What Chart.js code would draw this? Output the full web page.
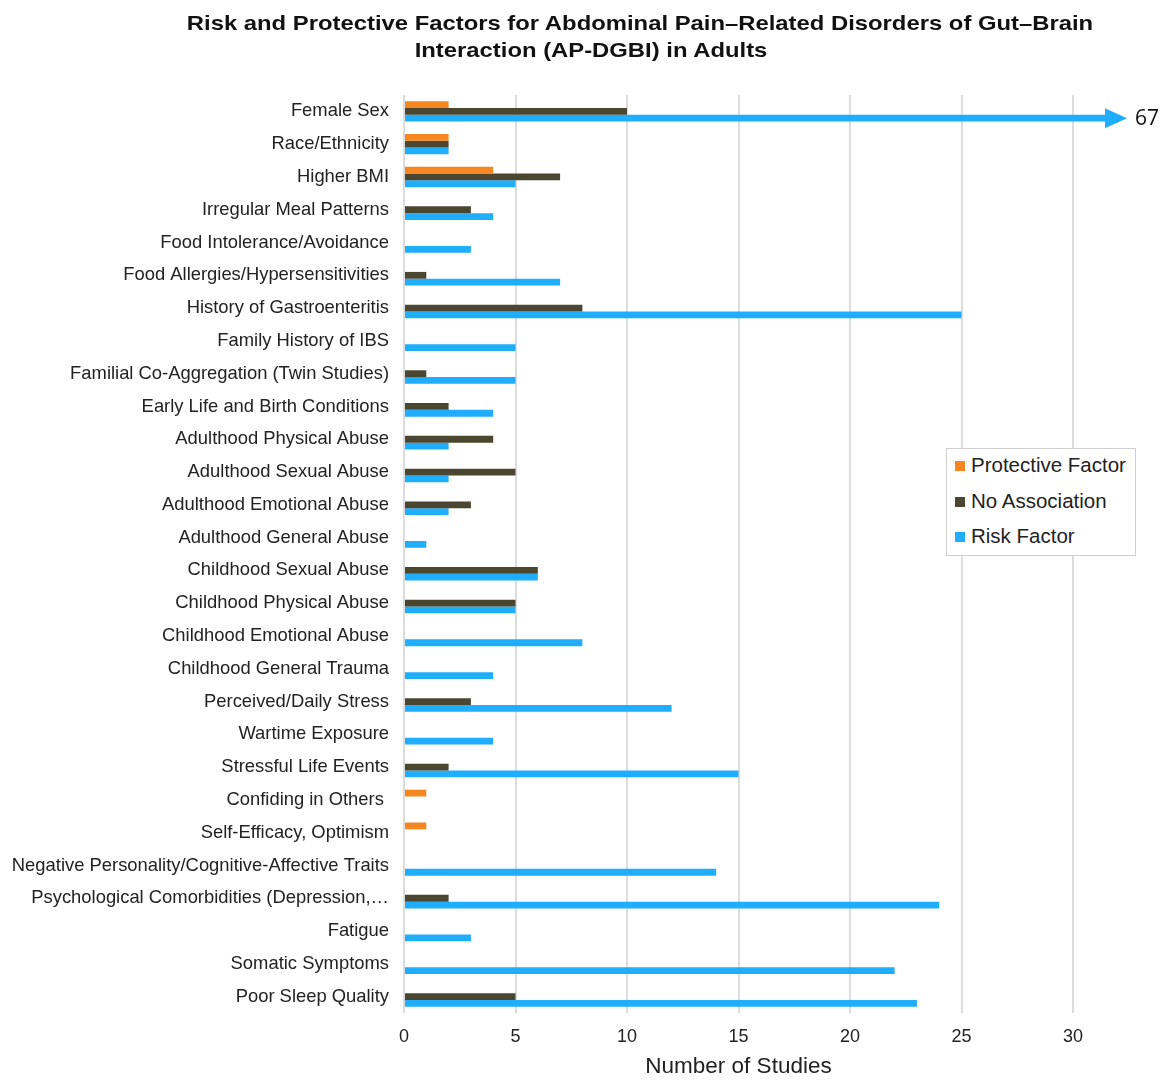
<!DOCTYPE html>
<html>
<head>
<meta charset="utf-8">
<script src="https://cdn.jsdelivr.net/npm/chart.js@4"></script>
<style>
	body { margin: 0; background: #fff; font-family: "Liberation Sans", Arial, sans-serif; }
	#wrap { position: relative; width: 1173px; height: 1081px; }
	.title { position: absolute; width: 1000px; text-align: center; font-weight: bold; font-size: 21px; line-height: 27px; color: #111; white-space: nowrap; transform: scaleX(1.135); transform-origin: 50% 50%; }
	#legend { position: absolute; left: 946px; top: 448px; width: 188px; height: 106px; border: 1px solid #d0d0d0; background: #fff; }
	#legend div { position: absolute; left: 8px; font-size: 20.5px; color: #222; white-space: nowrap; }
	#legend span { display: inline-block; width: 10px; height: 10px; margin-right: 6px; vertical-align: 1px; }
</style>
</head>
<body>
<div id="wrap">
	<canvas id="FactorsChartCanvas" width="1173" height="1081"></canvas>
	<div class="title" style="left: 140px; top: 9px;">Risk and Protective Factors for Abdominal Pain–Related Disorders of Gut–Brain</div>
	<div class="title" style="left: 91px; top: 36px;">Interaction (AP-DGBI) in Adults</div>
	<div id="legend"></div>
</div>
<script>
var factors = [
	"Female Sex", "Race/Ethnicity", "Higher BMI", "Irregular Meal Patterns",
	"Food Intolerance/Avoidance", "Food Allergies/Hypersensitivities", "History of Gastroenteritis",
	"Family History of IBS", "Familial Co-Aggregation (Twin Studies)", "Early Life and Birth Conditions",
	"Adulthood Physical Abuse", "Adulthood Sexual Abuse", "Adulthood Emotional Abuse",
	"Adulthood General Abuse", "Childhood Sexual Abuse", "Childhood Physical Abuse",
	"Childhood Emotional Abuse", "Childhood General Trauma", "Perceived/Daily Stress",
	"Wartime Exposure", "Stressful Life Events", "Confiding in Others ", "Self-Efficacy, Optimism",
	"Negative Personality/Cognitive-Affective Traits", "Psychological Comorbidities (Depression,…",
	"Fatigue", "Somatic Symptoms", "Poor Sleep Quality"
];
var protectiveFactor = [2, 2, 4, null, null, null, null, null, null, null, null, null, null, null,
	null, null, null, null, null, null, null, 1, 1, null, null, null, null, null];
var noAssociation = [10, 2, 7, 3, null, 1, 8, null, 1, 2, 4, 5, 3, null,
	6, 5, null, null, 3, null, 2, null, null, null, 2, null, null, 5];
var riskFactor = [67, 2, 5, 4, 3, 7, 25, 5, 5, 4, 2, 2, 2, 1,
	6, 5, 8, 4, 12, 4, 15, null, null, 14, 24, 3, 22, 23];
var xTicks = [0, 5, 10, 15, 20, 25, 30];

var colors = { protective: "#f6861f", none: "#4b4630", risk: "#1fadfd" };
var labelFont = "'Liberation Sans', Arial, sans-serif";

// arrow head and total for the bar that runs off the axis
var overflowArrow = {
	id: "overflowArrow",
	afterDatasetsDraw: function(chart) {
		var ctx = chart.ctx;
		var meta = chart.getDatasetMeta(2);
		var area = chart.chartArea;
		var max = chart.scales.x.max;
		riskFactor.forEach(function(v, i) {
			if(v === null || v <= max) return;
			var y = meta.data[i].y;
			var x0 = area.right + 32;
			ctx.save();
			ctx.fillStyle = colors.risk;
			ctx.beginPath();
			ctx.moveTo(x0, y - 10);
			ctx.lineTo(x0 + 22, y);
			ctx.lineTo(x0, y + 10);
			ctx.closePath();
			ctx.fill();
			ctx.fillStyle = "#111";
			ctx.font = "21px 'Open Sans', 'Liberation Sans', sans-serif";
			ctx.textBaseline = "middle";
			ctx.fillText(String(v), x0 + 30, y + 1);
			ctx.restore();
		});
	}
};

var ctx = document.getElementById("FactorsChartCanvas").getContext("2d");
var chart = new Chart(ctx, {
	type: "bar",
	data: {
		labels: factors,
		datasets: [
			{ label: "Protective Factor", data: protectiveFactor, backgroundColor: colors.protective },
			{ label: "No Association", data: noAssociation, backgroundColor: colors.none },
			{ label: "Risk Factor", data: riskFactor, backgroundColor: colors.risk,
				clip: { left: false, top: false, right: 34, bottom: false } }
		]
	},
	options: {
		indexAxis: "y",
		responsive: false,
		animation: false,
		layout: { padding: { top: 95, right: 100, left: 0, bottom: 0 } },
		datasets: { bar: { categoryPercentage: 0.62, barPercentage: 1, borderWidth: 0 } },
		plugins: {
			legend: { display: false },
			tooltip: { enabled: false }
		},
		scales: {
			x: {
				min: 0,
				max: 30,
				afterBuildTicks: function(scale) {
					scale.ticks = xTicks.map(function(v) { return { value: v }; });
				},
				afterFit: function(scale) { scale.height = 68; },
				grid: { color: "#dcdcdc", lineWidth: 2, tickLength: 0, drawTicks: false },
				border: { display: false },
				ticks: { padding: 13, color: "#222", font: { size: 18, family: labelFont } },
				title: { display: true, text: "Number of Studies", color: "#222", padding: { top: 0, bottom: 1 },
					font: { size: 22.5, family: labelFont } }
			},
			y: {
				afterFit: function(scale) { scale.width = 404; },
				grid: { display: false },
				border: { display: false },
				ticks: { padding: 7, color: "#222", autoSkip: false, font: { size: 18.4, family: labelFont } }
			}
		}
	},
	plugins: [overflowArrow]
});

// legend box inside the plot
var legend = document.getElementById("legend");
chart.data.datasets.forEach(function(ds, i) {
	var item = document.createElement("div");
	item.style.top = (4 + i * 35.5) + "px";
	item.innerHTML = '<span style="background:' + ds.backgroundColor + '"></span>' + ds.label;
	legend.appendChild(item);
});
</script>
</body>
</html>
